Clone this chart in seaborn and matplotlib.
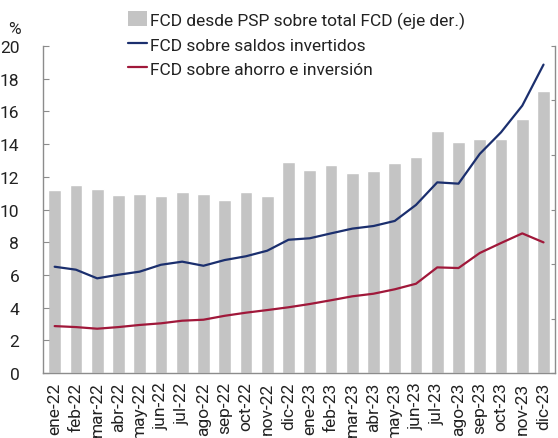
import matplotlib
matplotlib.use("Agg")
import matplotlib.pyplot as plt
from matplotlib.ticker import MultipleLocator, FixedLocator
from matplotlib.patches import Patch
from matplotlib.lines import Line2D
import seaborn as sns
import pandas as pd

months = ["ene-22", "feb-22", "mar-22", "abr-22", "may-22", "jun-22", "jul-22", "ago-22",
          "sep-22", "oct-22", "nov-22", "dic-22", "ene-23", "feb-23", "mar-23", "abr-23",
          "may-23", "jun-23", "jul-23", "ago-23", "sep-23", "oct-23", "nov-23", "dic-23"]
# right axis (0-30)
psp_share = [16.8, 17.25, 16.85, 16.35, 16.4, 16.25, 16.65, 16.4, 15.85, 16.65, 16.25, 19.4,
             18.6, 19.1, 18.35, 18.5, 19.3, 19.8, 22.2, 21.15, 21.45, 21.45, 23.3, 25.9]
saldos = [6.5, 6.32, 5.79, 6.01, 6.2, 6.62, 6.81, 6.56, 6.91, 7.14, 7.48, 8.15,
          8.24, 8.54, 8.83, 8.99, 9.3, 10.28, 11.66, 11.58, 13.4, 14.72, 16.35, 18.86]
ahorro = [2.87, 2.81, 2.71, 2.81, 2.94, 3.04, 3.2, 3.26, 3.5, 3.69, 3.85, 4.02,
          4.22, 4.45, 4.69, 4.85, 5.12, 5.46, 6.46, 6.42, 7.34, 7.95, 8.54, 7.99]

lab_bar = "FCD desde PSP sobre total FCD (eje der.)"
lab_blue = "FCD sobre saldos invertidos"
lab_red = "FCD sobre ahorro e inversión"

sns.set_style("white")
plt.rcParams["font.family"] = ["Roboto", "DejaVu Sans"]

c_bar = "#c4c4c4"
c_blue = "#1b2f6e"
c_red = "#a0183a"
c_axis = "#8c8c8c"

df = pd.DataFrame({"mes": months, "psp": psp_share, "saldos": saldos, "ahorro": ahorro})

fig = plt.figure(figsize=(5.58, 4.39), dpi=100)
ax = fig.add_axes([0.077, 0.148, 0.918, 0.745])
ax2 = ax.twinx()

sns.barplot(data=df, x="mes", y="psp", ax=ax2, color=c_bar, width=0.6, saturation=1)
sns.lineplot(data=df, x="mes", y="saldos", ax=ax, color=c_blue, lw=1.6, sort=False)
sns.lineplot(data=df, x="mes", y="ahorro", ax=ax, color=c_red, lw=1.6, sort=False)

ax.set_zorder(ax2.get_zorder() + 1)
ax.patch.set_visible(False)

ax.set_ylim(0, 20)
ax.yaxis.set_major_locator(MultipleLocator(2))
ax2.set_ylim(0, 30)
ax2.yaxis.set_major_locator(MultipleLocator(5))
ax.set_xlim(-0.55, len(months) - 0.45)

for a in (ax, ax2):
    a.set_xlabel("")
    a.set_ylabel("")
    for s in a.spines.values():
        s.set_color(c_axis)
        s.set_linewidth(1.0)
    a.spines["top"].set_visible(False)

ax.spines["right"].set_visible(False)
ax2.spines["left"].set_visible(False)
ax2.spines["bottom"].set_visible(False)

ax.set_xticks(range(len(months)))
ax.set_xticklabels(months, rotation=90)
ax.tick_params(axis="x", which="major", length=0, labelsize=12.5, pad=6,
               labelcolor="#222222", labelbottom=True)
ax.xaxis.set_minor_locator(FixedLocator([i + 0.5 for i in range(len(months) - 1)]))
ax.tick_params(axis="x", which="minor", direction="in", length=4, color=c_axis)

ax.tick_params(axis="y", direction="in", length=4, color=c_axis, labelsize=12.5, pad=17,
               labelcolor="#222222")
ax2.tick_params(axis="y", direction="in", length=3, color=c_axis, labelright=False)

fig.text(0.014, 0.922, "%", fontsize=12.5, color="#222222")

handles = [Patch(facecolor=c_bar, edgecolor="none"),
           Line2D([], [], color=c_blue, lw=1.6),
           Line2D([], [], color=c_red, lw=1.6)]
fig.legend(handles, [lab_bar, lab_blue, lab_red], loc="upper left",
           bbox_to_anchor=(0.223, 0.98), frameon=False, fontsize=12.5,
           handlelength=1.1, handleheight=0.9, handletextpad=0.15, labelspacing=0.45,
           borderaxespad=0, borderpad=0.2, labelcolor="#222222")

fig.savefig("out.png", dpi=100)
